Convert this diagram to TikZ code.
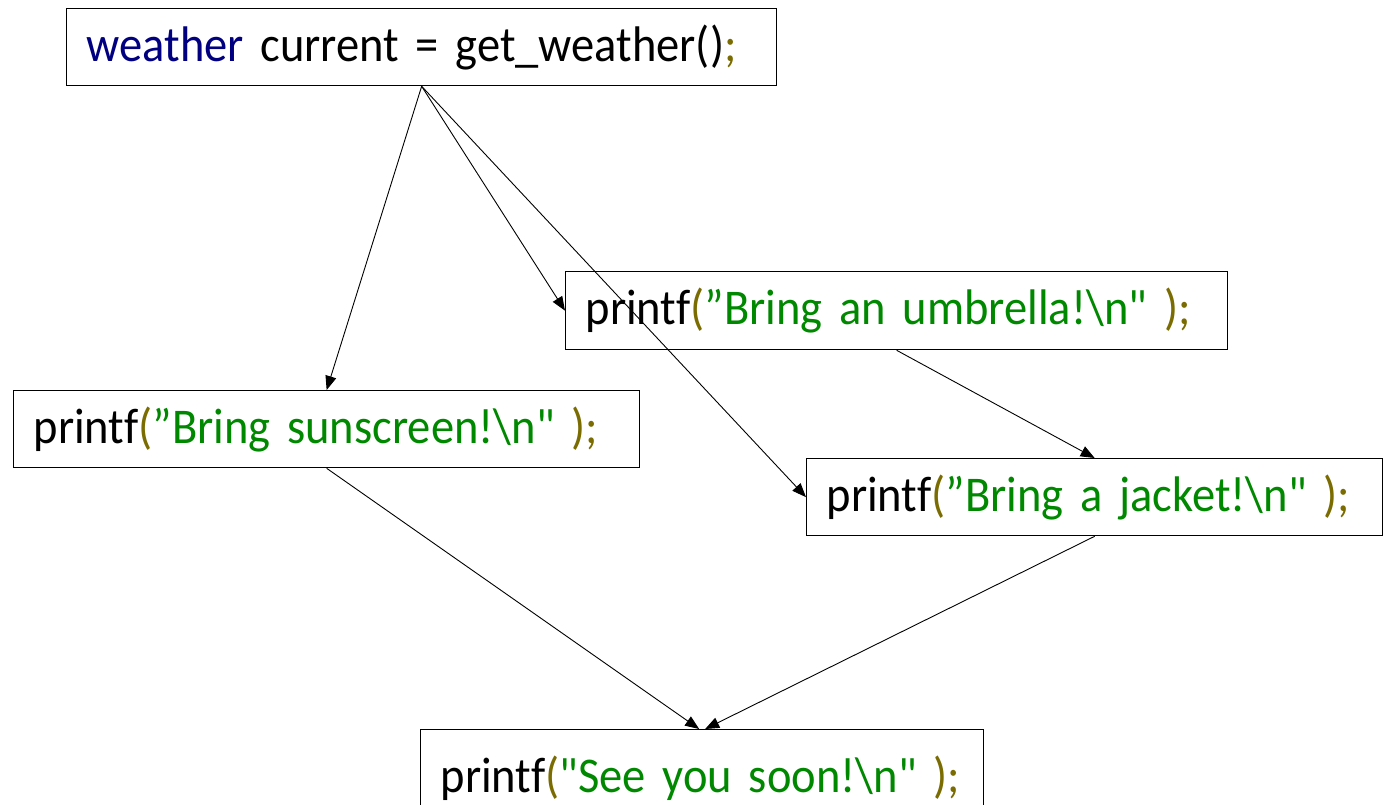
\documentclass[tikz,border=0pt]{standalone}
\usepackage{fontspec}
\newfontfamily\codefont{Carlito}[FakeStretch=0.93,Ligatures=NoCommon]
\usetikzlibrary{arrows.meta}
\definecolor{kwblue}{RGB}{0,0,128}
\definecolor{punct}{RGB}{122,108,0}
\definecolor{strgreen}{RGB}{0,136,0}
\newcommand{\pn}[1]{\textcolor{punct}{#1}}
\newcommand{\str}[1]{\textcolor{strgreen}{#1}}
\begin{document}
\begin{tikzpicture}[x=1pt,y=-1pt,
  codebox/.style={draw=black, line width=1.3pt, fill=white, inner xsep=20pt, inner ysep=0pt,
    align=left, anchor=north west, font=\codefont\fontsize{50}{56}\selectfont},
  flow/.style={draw=black, line width=0.9pt, -{Triangle[length=14pt,width=11pt]}}]
\useasboundingbox (0,0) rectangle (1391,805);
\node[codebox, text width=670pt, minimum height=77pt] (top) at (66,8)
  {\textcolor{kwblue}{weather} current = get\_weather()\pn{;}};
\node[codebox, text width=622pt, minimum height=78pt] (umb) at (565,271)
  {printf\pn{(}\str{”Bring an umbrella!\textbackslash n"} \pn{);}};
\node[codebox, text width=586pt, minimum height=77pt] (sun) at (13,390)
  {printf\pn{(}\str{”Bring sunscreen!\textbackslash n"} \pn{);}};
\node[codebox, text width=536pt, minimum height=77pt] (jac) at (806,458)
  {printf\pn{(}\str{”Bring a jacket!\textbackslash n"} \pn{);}};
\node[codebox, text width=523pt, minimum height=97pt] (see) at (420,729)
  {printf\pn{(}\str{"See you soon!\textbackslash n"} \pn{);}};
\draw[flow] (top.south) -- (sun.north);
\draw[flow] (top.south) -- (umb.west);
\draw[flow] (top.south) -- (jac.west);
\draw[flow] (umb.south) -- (jac.north);
\draw[flow] (sun.south) -- ([xshift=-3pt]see.north);
\draw[flow] (jac.south) -- ([xshift=3pt]see.north);
\end{tikzpicture}
\end{document}
